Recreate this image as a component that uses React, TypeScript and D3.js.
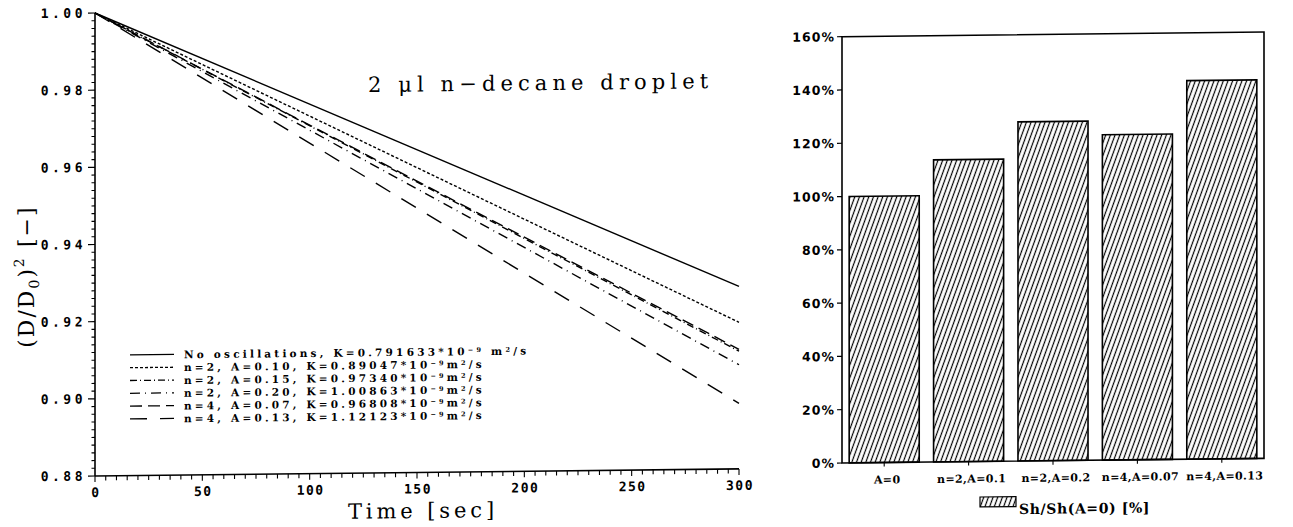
import React from "react";
import * as d3 from "d3";

// Left panel: normalised squared droplet diameter against time
const timeTicks = [0, 50, 100, 150, 200, 250, 300];
const ratioTicks = [0.88, 0.9, 0.92, 0.94, 0.96, 0.98, 1.0];
const seriesTimes = [0, 300];
const noOscillation = [1.0, 0.9273];
const n2A010 = [1.0, 0.918];
const n2A015 = [1.0, 0.9105];
const n2A020 = [1.0, 0.907];
const n4A007 = [1.0, 0.911];
const n4A013 = [1.0, 0.897];
const seriesLabels = [
  { head: "No oscillations, K=0.791633*10", tail: " m" },
  { head: "n=2, A=0.10, K=0.89047*10", tail: "m" },
  { head: "n=2, A=0.15, K=0.97340*10", tail: "m" },
  { head: "n=2, A=0.20, K=1.00863*10", tail: "m" },
  { head: "n=4, A=0.07, K=0.96808*10", tail: "m" },
  { head: "n=4, A=0.13, K=1.12123*10", tail: "m" },
];
const seriesDashes = ["", "3,2", "7,3,1,3", "10,5,1,5", "12,6", "17,13"];

// Right panel: Sherwood number relative to the non-oscillating case
const barCategories = ["A=0", "n=2,A=0.1", "n=2,A=0.2", "n=4,A=0.07", "n=4,A=0.13"];
const shRatio = [100, 113.4, 127.3, 122.1, 142.1];
const percentTicks = [0, 20, 40, 60, 80, 100, 120, 140, 160];

const plotterFont = "'DejaVu Sans Mono', monospace";
const serifFont = "'DejaVu Serif', serif";

export default function App() {
  const W = 1293;
  const H = 527;

  const x = d3.scaleLinear().domain([0, 300]).range([95, 739]);
  const y = d3.scaleLinear().domain([0.88, 1.0]).range([476, 13]);
  const line = d3
    .line<[number, number]>()
    .x((d) => x(d[0]))
    .y((d) => y(d[1]));

  const seriesValues = [noOscillation, n2A010, n2A015, n2A020, n4A007, n4A013];
  const series = seriesValues.map((vals, i) => ({
    points: seriesTimes.map((t, j) => [t, vals[j]] as [number, number]),
    dash: seriesDashes[i],
    label: seriesLabels[i],
  }));

  const xMinor = d3.range(0, 301, 5);
  const yMinor = d3.range(0, 61).map((i) => 0.88 + i * 0.002);
  const fmtRatio = d3.format(".2f");

  const bx = d3
    .scaleBand<string>()
    .domain(barCategories)
    .range([842, 1264])
    .paddingInner(0.17)
    .paddingOuter(0.085);
  const by = d3.scaleLinear().domain([0, 160]).range([471.2, 44.9]);

  const legendTop = 355.3;
  const legendStep = 12.8;

  return (
    <svg
      width={W}
      height={H}
      style={{ position: "absolute", left: 0, top: 0, background: "#fff" }}
    >
      <defs>
        <pattern
          id="hatch"
          patternUnits="userSpaceOnUse"
          width="4.4"
          height="10"
          patternTransform="rotate(20)"
        >
          <line x1="2.2" y1="-1" x2="2.2" y2="11" stroke="#000" strokeWidth="1.2" />
        </pattern>
      </defs>
      <rect width={W} height={H} fill="#fff" />
      <g transform="translate(0,1.045) skewY(-0.63)">
        {/* ---------- left panel ---------- */}
        <g>
          {series.map((s, i) => (
            <path
              key={i}
              d={line(s.points) || ""}
              fill="none"
              stroke="#000"
              strokeWidth={1.4}
              strokeDasharray={s.dash || undefined}
            />
          ))}
          {/* axes */}
          <line x1={95} x2={95} y1={y(0.88)} y2={y(1.0)} stroke="#000" strokeWidth={1.6} />
          <line x1={95} x2={739} y1={y(0.88)} y2={y(0.88)} stroke="#000" strokeWidth={1.6} />
          {yMinor.map((v, i) => (
            <line
              key={"ym" + i}
              x1={95}
              x2={i % 10 === 0 ? 88 : 91.5}
              y1={y(v)}
              y2={y(v)}
              stroke="#000"
              strokeWidth={1.1}
            />
          ))}
          {xMinor.map((v, i) => (
            <line
              key={"xm" + i}
              x1={x(v)}
              x2={x(v)}
              y1={y(0.88)}
              y2={y(0.88) + (i % 10 === 0 ? 6 : 4.5)}
              stroke="#000"
              strokeWidth={1.1}
            />
          ))}
          {ratioTicks.map((v) => (
            <text
              key={"yl" + v}
              x={86}
              y={y(v) + 4.5}
              textAnchor="end"
              fontFamily={plotterFont}
              fontWeight="bold"
              fontSize={13}
              letterSpacing={3.5}
            >
              {fmtRatio(v)}
            </text>
          ))}
          {timeTicks.map((v) => (
            <text
              key={"xl" + v}
              x={x(v) + 1}
              y={497}
              textAnchor="middle"
              fontFamily={plotterFont}
              fontWeight="bold"
              fontSize={13}
              letterSpacing={1.5}
            >
              {v}
            </text>
          ))}
          {/* axis titles */}
          <text
            x={423}
            y={521.5}
            textAnchor="middle"
            fontFamily={serifFont}
            fontSize={21}
            letterSpacing={3.9}
          >
            Time [sec]
          </text>
          <text
            transform="translate(34,276) rotate(-90)"
            textAnchor="middle"
            fontFamily={serifFont}
            fontSize={22}
            letterSpacing={2}
          >
            (D/D
            <tspan dy={5} fontSize={14}>0</tspan>
            <tspan dy={-5}>)</tspan>
            <tspan dy={-10} fontSize={14}>2</tspan>
            <tspan dy={10}> [−]</tspan>
          </text>
          <text
            x={368}
            y={95}
            fontFamily={serifFont}
            fontSize={21}
            letterSpacing={5.1}
          >
            2 μl n−decane droplet
          </text>
          {/* legend */}
          {series.map((s, i) => {
            const cy = legendTop + i * legendStep;
            return (
              <g key={"lg" + i}>
                <line
                  x1={130}
                  x2={174}
                  y1={cy}
                  y2={cy}
                  stroke="#000"
                  strokeWidth={1.3}
                  strokeDasharray={s.dash || undefined}
                />
                <text
                  x={184}
                  y={cy + 4}
                  fontFamily={serifFont}
                  fontWeight="bold"
                  fontSize={10.5}
                  letterSpacing={3.2}
                >
                  {s.label.head}
                  <tspan dy={-3} fontSize={6.5}>−9</tspan>
                  <tspan dy={3}>{s.label.tail}</tspan>
                  <tspan dy={-3} fontSize={6.5}>2</tspan>
                  <tspan dy={3}>/s</tspan>
                </text>
              </g>
            );
          })}
        </g>

        {/* ---------- right panel ---------- */}
        <g>
          {barCategories.map((c, i) => (
            <rect
              key={"bar" + c}
              x={bx(c)}
              y={by(shRatio[i])}
              width={bx.bandwidth()}
              height={by(0) - by(shRatio[i])}
              fill="url(#hatch)"
              stroke="#000"
              strokeWidth={1.6}
            />
          ))}
          <rect
            x={842}
            y={by(160)}
            width={1264 - 842}
            height={by(0) - by(160)}
            fill="none"
            stroke="#000"
            strokeWidth={1.6}
          />
          {percentTicks.map((p) => (
            <g key={"pt" + p}>
              <line x1={837} x2={842} y1={by(p)} y2={by(p)} stroke="#000" strokeWidth={1.2} />
              <text
                x={835}
                y={by(p) + 4.5}
                textAnchor="end"
                fontFamily="'DejaVu Sans', sans-serif"
                fontWeight="bold"
                fontSize={12.5}
                letterSpacing={1}
              >
                {p}%
              </text>
            </g>
          ))}
          {barCategories.map((c) => {
            const cx = (bx(c) || 0) + bx.bandwidth() / 2;
            return (
              <g key={"cat" + c}>
                <line x1={cx} x2={cx} y1={by(0)} y2={by(0) + 4} stroke="#000" strokeWidth={1.1} />
                <text
                  x={cx + 3}
                  y={by(0) + 21}
                  textAnchor="middle"
                  fontFamily={serifFont}
                  fontWeight="bold"
                  fontSize={11}
                  letterSpacing={0.4}
                >
                  {c}
                </text>
              </g>
            );
          })}
          <rect
            x={980}
            y={by(0) + 35.5}
            width={36}
            height={10}
            fill="url(#hatch)"
            stroke="#000"
            strokeWidth={1.2}
          />
          <text
            x={1019}
            y={by(0) + 53}
            fontFamily={serifFont}
            fontWeight="bold"
            fontSize={14}
            letterSpacing={0.6}
          >
            Sh/Sh(A=0) [%]
          </text>
        </g>
      </g>
    </svg>
  );
}
